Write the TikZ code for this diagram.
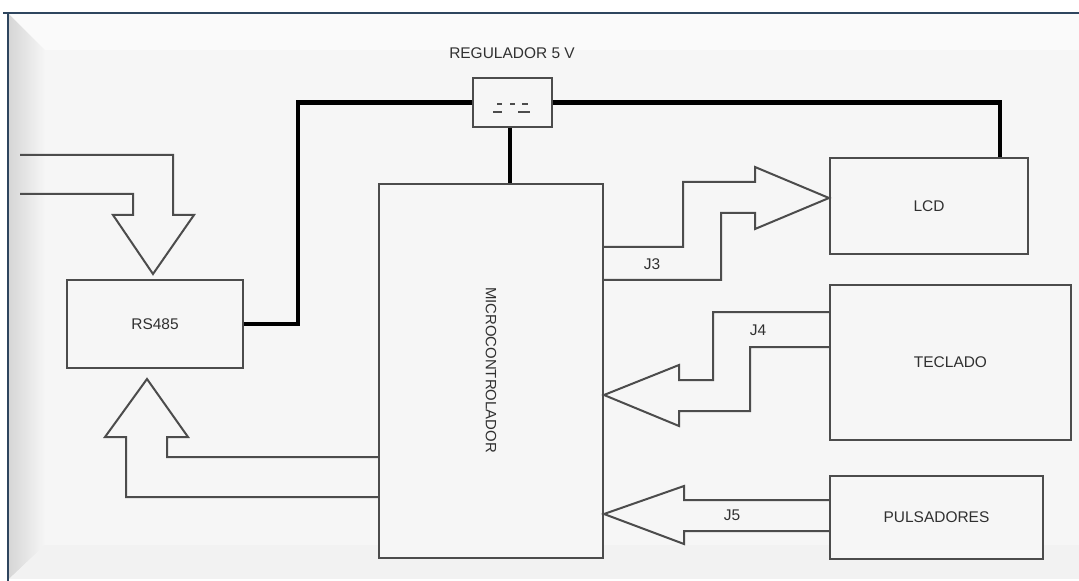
\documentclass[tikz,border=0pt]{standalone}
\usepackage{fontspec}
\setmainfont{Liberation Sans}
\begin{document}
\definecolor{bgc}{HTML}{F6F6F6}
\definecolor{linec}{HTML}{4C4C4C}
\definecolor{txtc}{HTML}{303030}
\definecolor{framec}{HTML}{2E455E}
\begin{tikzpicture}[x=0.75pt,y=-0.75pt,
  blk/.style={draw=linec, line width=1.5pt, fill=bgc, inner sep=0pt, font=\fontsize{11.6}{13}\selectfont, text=txtc},
  conn/.style={draw=linec, line width=1.5pt, line join=miter},
  power/.style={draw=black, line width=3.4pt},
  lbl/.style={font=\fontsize{11.6}{13}\selectfont, text=txtc, inner sep=0pt}]
\useasboundingbox (0,0) rectangle (1079,581);
% background
\fill[white] (0,0) rectangle (1079,581);
\fill[bgc] (8,13) rectangle (1079,581);
\shade[left color=black!16, right color=bgc] (9,14) -- (45,50) -- (45,545) -- (9,579) -- cycle;
\fill[black!5] (9,579) -- (45,545) -- (1079,545) -- (1079,579) -- cycle;
\fill[white!40!bgc] (9,14) -- (1079,14) -- (1079,50) -- (45,50) -- cycle;
\fill[white] (0,579) rectangle (1079,581);
\draw[framec, line width=1.2pt] (3,13) -- (1079,13);
\draw[framec, line width=1.2pt] (8,13) -- (8,581);
% blocks
\node[blk, minimum width=79*0.75pt, minimum height=49*0.75pt] (reg) at (512.5,102.5) {};
\node[lbl] (regl) at (512,53) {REGULADOR 5 V};
\node[blk, minimum width=176*0.75pt, minimum height=88*0.75pt] (rs) at (155,324) {RS485};
\node[blk, minimum width=224*0.75pt, minimum height=374*0.75pt] (mc) at (491,371) {};
\node[lbl, rotate=-90, font=\fontsize{11.2}{13}\selectfont] (mcl) at (491,370) {MICROCONTROLADOR};
\node[blk, minimum width=198*0.75pt, minimum height=96*0.75pt] (lcd) at (929,206) {LCD};
\node[blk, minimum width=241*0.75pt, minimum height=155*0.75pt] (tec) at (950.5,362.5) {TECLADO};
\node[blk, minimum width=213*0.75pt, minimum height=83*0.75pt] (pul) at (936.5,517.5) {PULSADORES};
% DC symbol in regulator
\draw[linec, line width=1.2pt] (497,104) -- (502,104) (510,104) -- (515,104) (522,104) -- (528,104)
  (493,112) -- (502,112) (518,112) -- (530,112);
% power lines
\draw[power] (reg.west) -| (rs.east -| 298,0) -- (rs.east);
\draw[power] (reg.east) -| (1000,0 |- lcd.north);
\draw[power] (reg.south -| 510,0) -- (mc.north -| 510,0);
% block arrows
\draw[conn] (20,155) -- (173,155) -- (173,215) -- (194,215) -- (153,274) -- (113,215) -- (133,215) -- (133,194) -- (20,194);
\draw[conn] (mc.west |- 0,457) -- (167,457) -- (167,437) -- (188,437) -- (147,379) -- (105,437) -- (126,437) -- (126,497) -- (mc.west |- 0,497);
\draw[conn] (mc.east |- 0,247) -- (683,247) -- (683,182) -- (755,182) -- (755,167) -- (lcd.west |- 0,198) -- (755,229) -- (755,213) -- (721,213) -- (721,280) -- (mc.east |- 0,280);
\draw[conn] (tec.west |- 0,312) -- (713,312) -- (713,380) -- (679,380) -- (679,365) -- (mc.east |- 0,395) -- (679,426) -- (679,411) -- (750,411) -- (750,347) -- (tec.west |- 0,347);
\draw[conn] (pul.west |- 0,500) -- (684,500) -- (684,486) -- (mc.east |- 0,514) -- (684,544) -- (684,531) -- (pul.west |- 0,531);
% connector labels
\node[lbl] (j3) at (652,264) {J3};
\node[lbl] (j4) at (758,330) {J4};
\node[lbl] (j5) at (732,515) {J5};
\end{tikzpicture}
\end{document}
